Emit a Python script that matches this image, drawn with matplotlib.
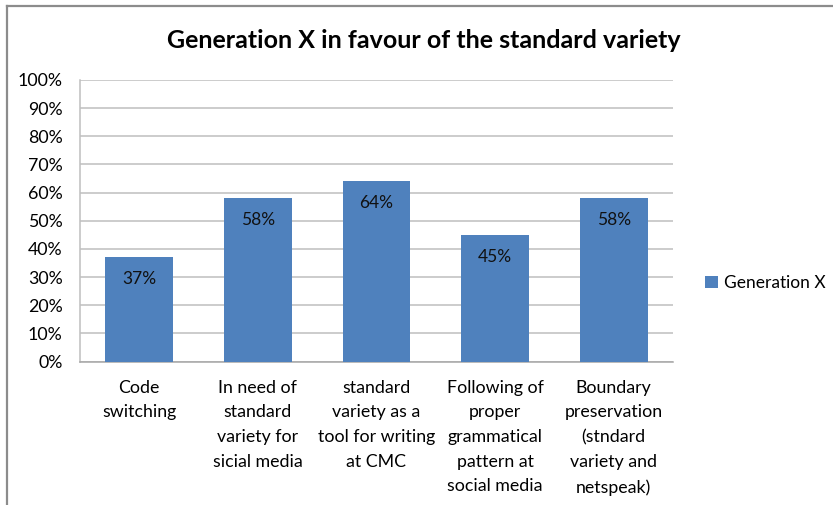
import matplotlib.pyplot as plt
from matplotlib.lines import Line2D

# data
categories = ['Code\nswitching',
              'In need of\nstandard\nvariety for\nsicial media',
              'standard\nvariety as a\ntool for writing\nat CMC',
              'Following of\nproper\ngrammatical\npattern at\nsocial media',
              'Boundary\npreservation\n(stndard\nvariety and\nnetspeak)']
gen_x = [37, 58, 64, 45, 58]
yticks = [0, 10, 20, 30, 40, 50, 60, 70, 80, 90, 100]

plt.rcParams['font.family'] = ['Lato', 'DejaVu Sans']
bar_color = '#4F81BD'
fs = 12.8

fig = plt.figure(figsize=(8.33, 5.05), dpi=100)
ax = fig.add_axes([80/833, 1 - 361.5/505, (673-80)/833, (361.5-80)/505])

x = range(len(categories))
bars = ax.bar(x, gen_x, width=0.57, color=bar_color, label='Generation X', zorder=3)

# value labels inside the top of each bar
for b, v in zip(bars, gen_x):
    ax.text(b.get_x() + b.get_width()/2, v - 7.8, f'{v}%', ha='center', va='center',
            fontsize=12.5, color='#111111', zorder=4)

ax.set_xlim(-0.5, len(categories) - 0.5)
ax.set_ylim(0, 100)
ax.set_yticks(yticks)
ax.set_yticklabels([f'{t}%' for t in yticks], fontsize=fs)
ax.set_xticks(list(x))
ax.set_xticklabels(categories, fontsize=fs, linespacing=1.67, va='top')
ax.tick_params(axis='x', length=0, pad=13)
ax.tick_params(axis='y', length=0, pad=12.5)
ax.grid(axis='y', color='#BFBFBF', linewidth=1.1, zorder=0)

for s in ['top', 'right']:
    ax.spines[s].set_visible(False)
ax.spines['left'].set_color('#BFBFBF')
ax.spines['bottom'].set_color('#A6A6A6')
ax.spines['left'].set_linewidth(1.1)
ax.spines['bottom'].set_linewidth(1.1)

fig.text(0.5085, 1 - 40/505, 'Generation X in favour of the standard variety',
         ha='center', va='center', fontsize=18, fontweight='bold', color='black')

fig.legend(loc='center left', bbox_to_anchor=(689/833, 1 - 283/505), frameon=False,
           fontsize=12.5, handlelength=0.75, handleheight=0.75, handletextpad=0.35)

# chart border (top and left visible in the original crop)
fig.add_artist(Line2D([7/833, 1], [1 - 6/505, 1 - 6/505], color='#8C8C8C', linewidth=1.6))
fig.add_artist(Line2D([7/833, 7/833], [0, 1 - 6/505], color='#8C8C8C', linewidth=1.6))

fig.savefig('out.png', dpi=100)
